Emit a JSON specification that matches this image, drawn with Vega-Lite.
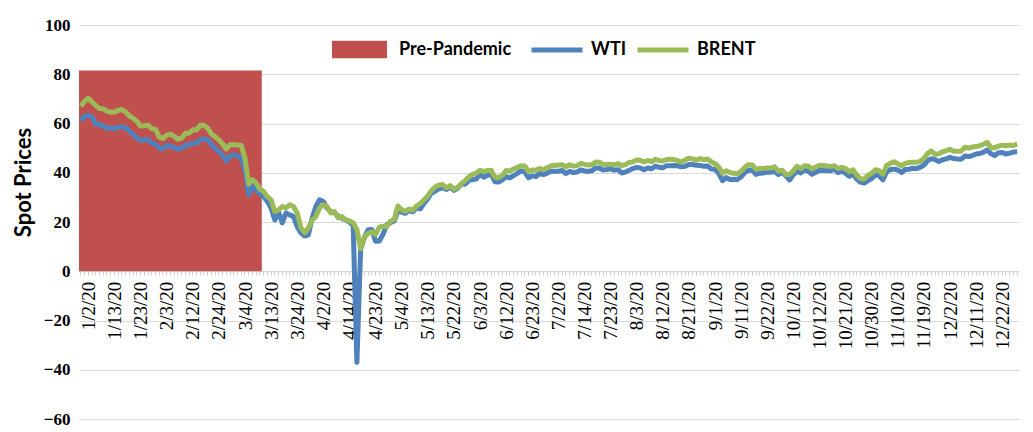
{
"$schema":"https://vega.github.io/schema/vega-lite/v6.json",
"width":940,"height":394,
"autosize":{"type":"none"},
"padding":{"left":79,"top":25,"right":14,"bottom":13},
"background":"white",
"config":{"view":{"stroke":null},"font":"Lato"},
"datasets":{
"pre":[{"d":"1/2/20","v":81.5},{"d":"1/3/20","v":81.5},{"d":"1/6/20","v":81.5},{"d":"1/7/20","v":81.5},{"d":"1/8/20","v":81.5},{"d":"1/9/20","v":81.5},{"d":"1/10/20","v":81.5},{"d":"1/13/20","v":81.5},{"d":"1/14/20","v":81.5},{"d":"1/15/20","v":81.5},{"d":"1/16/20","v":81.5},{"d":"1/17/20","v":81.5},{"d":"1/21/20","v":81.5},{"d":"1/22/20","v":81.5},{"d":"1/23/20","v":81.5},{"d":"1/24/20","v":81.5},{"d":"1/27/20","v":81.5},{"d":"1/28/20","v":81.5},{"d":"1/29/20","v":81.5},{"d":"1/30/20","v":81.5},{"d":"1/31/20","v":81.5},{"d":"2/3/20","v":81.5},{"d":"2/4/20","v":81.5},{"d":"2/5/20","v":81.5},{"d":"2/6/20","v":81.5},{"d":"2/7/20","v":81.5},{"d":"2/10/20","v":81.5},{"d":"2/11/20","v":81.5},{"d":"2/12/20","v":81.5},{"d":"2/13/20","v":81.5},{"d":"2/14/20","v":81.5},{"d":"2/18/20","v":81.5},{"d":"2/19/20","v":81.5},{"d":"2/20/20","v":81.5},{"d":"2/21/20","v":81.5},{"d":"2/24/20","v":81.5},{"d":"2/25/20","v":81.5},{"d":"2/26/20","v":81.5},{"d":"2/27/20","v":81.5},{"d":"2/28/20","v":81.5},{"d":"3/2/20","v":81.5},{"d":"3/3/20","v":81.5},{"d":"3/4/20","v":81.5},{"d":"3/5/20","v":81.5},{"d":"3/6/20","v":81.5},{"d":"3/9/20","v":81.5},{"d":"3/10/20","v":81.5},{"d":"3/11/20","v":81.5},{"d":"3/12/20","v":81.5},{"d":"3/13/20","v":81.5}],
"prices":[
{"d":"1/2/20","w":61.17,"b":67.05},{"d":"1/3/20","w":63.0,"b":69.08},{"d":"1/6/20","w":63.27,"b":70.25},{"d":"1/7/20","w":62.7,"b":68.74},{"d":"1/8/20","w":59.65,"b":67.31},{"d":"1/9/20","w":59.56,"b":66.06},{"d":"1/10/20","w":59.02,"b":65.98},{"d":"1/13/20","w":58.03,"b":65.06},{"d":"1/14/20","w":58.24,"b":64.61},{"d":"1/15/20","w":57.82,"b":64.69},{"d":"1/16/20","w":58.54,"b":65.34},{"d":"1/17/20","w":58.58,"b":65.66},{"d":"1/21/20","w":58.42,"b":64.68},{"d":"1/22/20","w":56.81,"b":63.04},{"d":"1/23/20","w":55.57,"b":62.17},{"d":"1/24/20","w":54.17,"b":60.87},{"d":"1/27/20","w":53.06,"b":58.98},{"d":"1/28/20","w":53.46,"b":59.13},{"d":"1/29/20","w":53.35,"b":59.34},{"d":"1/30/20","w":52.16,"b":57.91},{"d":"1/31/20","w":51.58,"b":57.77},
{"d":"2/3/20","w":50.07,"b":54.47},{"d":"2/4/20","w":49.66,"b":53.94},{"d":"2/5/20","w":51.02,"b":55.28},{"d":"2/6/20","w":50.92,"b":55.7},{"d":"2/7/20","w":50.3,"b":54.83},{"d":"2/10/20","w":49.59,"b":53.57},{"d":"2/11/20","w":49.92,"b":54.05},{"d":"2/12/20","w":51.18,"b":55.91},{"d":"2/13/20","w":51.37,"b":56.11},{"d":"2/14/20","w":52.03,"b":57.45},{"d":"2/18/20","w":51.98,"b":57.33},{"d":"2/19/20","w":53.41,"b":59.3},{"d":"2/20/20","w":53.89,"b":59.31},{"d":"2/21/20","w":53.37,"b":58.09},{"d":"2/24/20","w":51.42,"b":55.79},{"d":"2/25/20","w":49.85,"b":54.63},{"d":"2/26/20","w":48.72,"b":53.32},{"d":"2/27/20","w":47.12,"b":51.75},{"d":"2/28/20","w":44.83,"b":49.67},
{"d":"3/2/20","w":46.78,"b":51.39},{"d":"3/3/20","w":47.23,"b":51.46},{"d":"3/4/20","w":46.83,"b":51.23},{"d":"3/5/20","w":45.93,"b":51.06},{"d":"3/6/20","w":41.14,"b":45.89},{"d":"3/9/20","w":31.05,"b":35.33},{"d":"3/10/20","w":34.47,"b":37.22},{"d":"3/11/20","w":32.95,"b":35.85},{"d":"3/12/20","w":31.45,"b":33.36},{"d":"3/13/20","w":30.3,"b":32.4},{"d":"3/16/20","w":28.3,"b":30.3},{"d":"3/17/20","w":25.7,"b":29.0},{"d":"3/18/20","w":20.8,"b":24.2},{"d":"3/19/20","w":24.0,"b":24.9},{"d":"3/20/20","w":19.6,"b":26.3},{"d":"3/23/20","w":23.7,"b":25.7},{"d":"3/24/20","w":22.9,"b":27.0},{"d":"3/25/20","w":22.2,"b":26.3},{"d":"3/26/20","w":18.1,"b":23.7},{"d":"3/27/20","w":15.6,"b":17.6},{"d":"3/30/20","w":14.3,"b":15.6},{"d":"3/31/20","w":14.8,"b":17.6},
{"d":"4/1/20","w":21.6,"b":20.8},{"d":"4/2/20","w":26.3,"b":22.2},{"d":"4/3/20","w":29.0,"b":25.7},{"d":"4/6/20","w":28.3,"b":27.0},{"d":"4/7/20","w":25.7,"b":26.3},{"d":"4/8/20","w":24.2,"b":23.7},{"d":"4/9/20","w":23.7,"b":24.2},{"d":"4/13/20","w":22.2,"b":21.6},{"d":"4/14/20","w":21.6,"b":22.2},{"d":"4/15/20","w":20.8,"b":20.8},{"d":"4/16/20","w":20.0,"b":20.5},{"d":"4/17/20","w":18.5,"b":19.6},{"d":"4/20/20","w":-37.0,"b":17.0},{"d":"4/21/20","w":8.9,"b":9.1},{"d":"4/22/20","w":13.6,"b":13.8},{"d":"4/23/20","w":16.9,"b":15.4},{"d":"4/24/20","w":17.0,"b":16.0},{"d":"4/27/20","w":12.2,"b":15.0},{"d":"4/28/20","w":12.3,"b":17.9},{"d":"4/29/20","w":15.0,"b":18.3},{"d":"4/30/20","w":18.8,"b":18.1},
{"d":"5/1/20","w":19.75,"b":20.34},{"d":"5/4/20","w":20.39,"b":21.03},{"d":"5/5/20","w":24.56,"b":26.5},{"d":"5/6/20","w":23.99,"b":25.0},{"d":"5/7/20","w":23.55,"b":24.3},{"d":"5/8/20","w":24.74,"b":25.3},{"d":"5/11/20","w":24.13,"b":24.8},{"d":"5/12/20","w":25.78,"b":26.5},{"d":"5/13/20","w":25.29,"b":27.5},{"d":"5/14/20","w":27.56,"b":29.0},{"d":"5/15/20","w":29.43,"b":30.5},{"d":"5/18/20","w":31.82,"b":32.8},{"d":"5/19/20","w":32.5,"b":34.2},{"d":"5/20/20","w":33.49,"b":35.0},{"d":"5/21/20","w":33.92,"b":35.2},{"d":"5/22/20","w":33.25,"b":33.8},{"d":"5/26/20","w":34.35,"b":34.8},{"d":"5/27/20","w":32.81,"b":33.3},{"d":"5/28/20","w":33.71,"b":34.0},{"d":"5/29/20","w":35.49,"b":35.5},
{"d":"6/1/20","w":35.32,"b":36.81},{"d":"6/2/20","w":36.83,"b":38.31},{"d":"6/3/20","w":37.29,"b":39.32},{"d":"6/4/20","w":37.41,"b":39.79},{"d":"6/5/20","w":39.55,"b":41.0},{"d":"6/8/20","w":38.19,"b":40.5},{"d":"6/9/20","w":38.94,"b":40.9},{"d":"6/10/20","w":39.6,"b":41.0},{"d":"6/11/20","w":36.34,"b":38.2},{"d":"6/12/20","w":36.26,"b":38.0},{"d":"6/15/20","w":37.12,"b":38.9},{"d":"6/16/20","w":38.38,"b":40.96},{"d":"6/17/20","w":37.96,"b":40.71},{"d":"6/18/20","w":38.84,"b":41.51},{"d":"6/19/20","w":39.75,"b":42.19},{"d":"6/22/20","w":40.73,"b":42.84},{"d":"6/23/20","w":40.37,"b":42.79},{"d":"6/24/20","w":38.01,"b":40.51},{"d":"6/25/20","w":38.72,"b":41.09},{"d":"6/26/20","w":38.49,"b":41.02},{"d":"6/29/20","w":39.7,"b":41.71},{"d":"6/30/20","w":39.27,"b":41.15},
{"d":"7/1/20","w":39.82,"b":42.03},{"d":"7/2/20","w":40.65,"b":42.8},{"d":"7/6/20","w":40.63,"b":42.95},{"d":"7/7/20","w":40.62,"b":43.12},{"d":"7/8/20","w":40.9,"b":43.29},{"d":"7/9/20","w":39.62,"b":42.35},{"d":"7/10/20","w":40.55,"b":43.24},{"d":"7/13/20","w":40.1,"b":42.72},{"d":"7/14/20","w":40.29,"b":42.9},{"d":"7/15/20","w":41.2,"b":43.79},{"d":"7/16/20","w":40.75,"b":43.37},{"d":"7/17/20","w":40.59,"b":43.14},{"d":"7/20/20","w":40.81,"b":43.28},{"d":"7/21/20","w":41.96,"b":44.32},{"d":"7/22/20","w":41.9,"b":44.29},{"d":"7/23/20","w":41.07,"b":43.31},{"d":"7/24/20","w":41.29,"b":43.34},{"d":"7/27/20","w":41.6,"b":43.41},{"d":"7/28/20","w":41.04,"b":43.22},{"d":"7/29/20","w":41.27,"b":43.75},{"d":"7/30/20","w":39.92,"b":42.94},{"d":"7/31/20","w":40.27,"b":43.3},
{"d":"8/3/20","w":41.01,"b":44.15},{"d":"8/4/20","w":41.7,"b":44.43},{"d":"8/5/20","w":42.19,"b":45.17},{"d":"8/6/20","w":41.95,"b":45.09},{"d":"8/7/20","w":41.22,"b":44.4},{"d":"8/10/20","w":41.94,"b":44.99},{"d":"8/11/20","w":41.61,"b":44.5},{"d":"8/12/20","w":42.67,"b":45.43},{"d":"8/13/20","w":42.24,"b":44.96},{"d":"8/14/20","w":42.01,"b":44.8},{"d":"8/17/20","w":42.89,"b":45.37},{"d":"8/18/20","w":42.89,"b":45.46},{"d":"8/19/20","w":42.93,"b":45.37},{"d":"8/20/20","w":42.82,"b":44.9},{"d":"8/21/20","w":42.39,"b":44.35},{"d":"8/24/20","w":42.62,"b":45.13},{"d":"8/25/20","w":43.39,"b":45.86},{"d":"8/26/20","w":43.35,"b":45.64},{"d":"8/27/20","w":43.04,"b":45.09},{"d":"8/28/20","w":42.97,"b":45.81},{"d":"8/31/20","w":42.61,"b":45.28},
{"d":"9/1/20","w":42.76,"b":45.58},{"d":"9/2/20","w":41.51,"b":44.43},{"d":"9/3/20","w":41.37,"b":43.7},{"d":"9/4/20","w":39.77,"b":42.31},{"d":"9/8/20","w":36.76,"b":39.78},{"d":"9/9/20","w":38.05,"b":40.79},{"d":"9/10/20","w":37.3,"b":40.06},{"d":"9/11/20","w":37.33,"b":39.83},{"d":"9/14/20","w":37.26,"b":39.61},{"d":"9/15/20","w":38.28,"b":40.53},{"d":"9/16/20","w":40.16,"b":42.22},{"d":"9/17/20","w":40.97,"b":43.3},{"d":"9/18/20","w":41.11,"b":43.15},{"d":"9/21/20","w":39.31,"b":41.44},{"d":"9/22/20","w":39.8,"b":41.72},{"d":"9/23/20","w":39.93,"b":41.77},{"d":"9/24/20","w":40.31,"b":41.94},{"d":"9/25/20","w":40.25,"b":41.92},{"d":"9/28/20","w":40.6,"b":42.43},{"d":"9/29/20","w":39.29,"b":40.6},{"d":"9/30/20","w":40.22,"b":41.03},
{"d":"10/1/20","w":38.72,"b":39.27},{"d":"10/2/20","w":37.05,"b":39.27},{"d":"10/5/20","w":39.22,"b":40.84},{"d":"10/6/20","w":40.67,"b":42.65},{"d":"10/7/20","w":39.95,"b":41.66},{"d":"10/8/20","w":41.19,"b":42.83},{"d":"10/9/20","w":40.6,"b":42.78},{"d":"10/12/20","w":39.43,"b":41.51},{"d":"10/13/20","w":40.2,"b":42.37},{"d":"10/14/20","w":41.04,"b":43.09},{"d":"10/15/20","w":40.96,"b":42.92},{"d":"10/16/20","w":40.88,"b":42.74},{"d":"10/19/20","w":40.83,"b":42.59},{"d":"10/20/20","w":41.46,"b":42.86},{"d":"10/21/20","w":40.03,"b":41.71},{"d":"10/22/20","w":40.64,"b":42.23},{"d":"10/23/20","w":39.85,"b":41.72},{"d":"10/26/20","w":38.56,"b":40.44},{"d":"10/27/20","w":39.57,"b":41.21},{"d":"10/28/20","w":37.39,"b":39.05},{"d":"10/29/20","w":36.17,"b":37.52},{"d":"10/30/20","w":35.79,"b":37.46},
{"d":"11/2/20","w":36.81,"b":38.98},{"d":"11/3/20","w":37.66,"b":39.74},{"d":"11/4/20","w":39.15,"b":41.2},{"d":"11/5/20","w":38.79,"b":40.81},{"d":"11/6/20","w":37.14,"b":39.4},{"d":"11/9/20","w":40.29,"b":42.97},{"d":"11/10/20","w":41.36,"b":43.81},{"d":"11/11/20","w":41.45,"b":44.5},{"d":"11/12/20","w":41.12,"b":43.66},{"d":"11/13/20","w":40.13,"b":42.78},{"d":"11/16/20","w":41.34,"b":43.82},{"d":"11/17/20","w":41.43,"b":44.16},{"d":"11/18/20","w":41.82,"b":44.27},{"d":"11/19/20","w":41.74,"b":44.23},{"d":"11/20/20","w":42.15,"b":44.55},{"d":"11/23/20","w":43.06,"b":45.78},{"d":"11/24/20","w":44.91,"b":47.86},{"d":"11/25/20","w":45.71,"b":48.85},{"d":"11/30/20","w":45.34,"b":47.41},
{"d":"12/1/20","w":44.55,"b":47.7},{"d":"12/2/20","w":45.28,"b":48.51},{"d":"12/3/20","w":45.64,"b":48.93},{"d":"12/4/20","w":46.26,"b":49.45},{"d":"12/7/20","w":45.76,"b":48.7},{"d":"12/8/20","w":45.6,"b":48.75},{"d":"12/9/20","w":45.52,"b":48.78},{"d":"12/10/20","w":46.78,"b":50.36},{"d":"12/11/20","w":46.57,"b":49.99},{"d":"12/14/20","w":46.99,"b":50.45},{"d":"12/15/20","w":47.62,"b":50.62},{"d":"12/16/20","w":47.82,"b":50.99},{"d":"12/17/20","w":48.36,"b":51.56},{"d":"12/18/20","w":49.24,"b":52.3},{"d":"12/21/20","w":47.74,"b":50.18},{"d":"12/22/20","w":47.02,"b":50.2},{"d":"12/23/20","w":48.12,"b":50.83},{"d":"12/24/20","w":48.23,"b":51.22},{"d":"12/28/20","w":47.62,"b":50.94},{"d":"12/29/20","w":48.0,"b":51.23},{"d":"12/30/20","w":48.4,"b":51.09},{"d":"12/31/20","w":48.52,"b":51.72}
]},
"encoding":{
"x":{"field":"d","type":"ordinal","sort":null,"title":null,
"scale":{"type":"band","paddingInner":0,"paddingOuter":0},
"axis":{"labelExpr":"indexof(['1/2/20','1/13/20','1/23/20','2/3/20','2/12/20','2/24/20','3/4/20','3/13/20','3/24/20','4/2/20','4/14/20','4/23/20','5/4/20','5/13/20','5/22/20','6/3/20','6/12/20','6/23/20','7/2/20','7/14/20','7/23/20','8/3/20','8/12/20','8/21/20','9/1/20','9/11/20','9/22/20','10/1/20','10/12/20','10/21/20','10/30/20','11/10/20','11/19/20','12/2/20','12/11/20','12/22/20'], datum.value) >= 0 ? datum.value : ''",
"labelAngle":270,"labelFont":"Liberation Sans Narrow","labelFontSize":19,"labelColor":"#000","labelPadding":6,"labelOffset":8,"labelOverlap":false,
"offset":-147.75,"domainColor":"#d9d9d9","tickColor":"#d0d0d0","tickSize":4,"grid":false}}
},
"layer":[
{"data":{"name":"pre"},"mark":{"type":"area","opacity":1,"fillOpacity":1,"interpolate":"linear"},
"encoding":{
"x":{"field":"d","type":"ordinal","sort":null,"bandPosition":0},
"y":{"field":"v","type":"quantitative","title":"Spot Prices","scale":{"domain":[-60,100],"nice":false,"zero":false},
"axis":{"values":[-60,-40,-20,0,20,40,60,80,100],"domain":false,"ticks":false,"grid":true,"gridColor":"#d9d9d9","gridWidth":1,
"labelFont":"Liberation Serif","labelFontSize":17,"labelFontWeight":"bold","labelColor":"#000","labelPadding":9,
"titleFont":"Lato","titleFontSize":22,"titleFontWeight":"bold","titleColor":"#000","titlePadding":8,"titleY":157}},
"y2":{"datum":0},
"fill":{"datum":"Pre-Pandemic","scale":{"range":["#c0504d"]},
"legend":{"title":null,"orient":"none","legendX":253,"legendY":-3,"padding":0,"symbolType":"M-1,-0.32H1V0.32H-1Z","symbolSize":3025,"symbolStrokeWidth":0,"symbolOpacity":1,"labelFont":"Lato","labelFontSize":18,"labelFontWeight":"bold","labelColor":"#000","labelOffset":12}}
}},
{"data":{"name":"prices"},"mark":{"type":"line","strokeWidth":5,"strokeJoin":"round"},
"encoding":{
"y":{"field":"w","type":"quantitative","title":"Spot Prices"},
"stroke":{"datum":"WTI","scale":{"domain":["WTI","BRENT"],"range":["#4f81bd","#9bbb59"]},
"legend":{"title":null,"orient":"none","direction":"horizontal","gridAlign":"none","legendX":450,"legendY":-3,"padding":0,"symbolType":"stroke","symbolSize":2601,"symbolStrokeWidth":5,"labelFont":"Lato","labelFontSize":18,"labelFontWeight":"bold","labelColor":"#000","labelOffset":6,"columnPadding":0}}
}},
{"data":{"name":"prices"},"mark":{"type":"line","strokeWidth":5,"strokeJoin":"round"},
"encoding":{
"y":{"field":"b","type":"quantitative","title":"Spot Prices"},
"stroke":{"datum":"BRENT"}
}}
]
}
